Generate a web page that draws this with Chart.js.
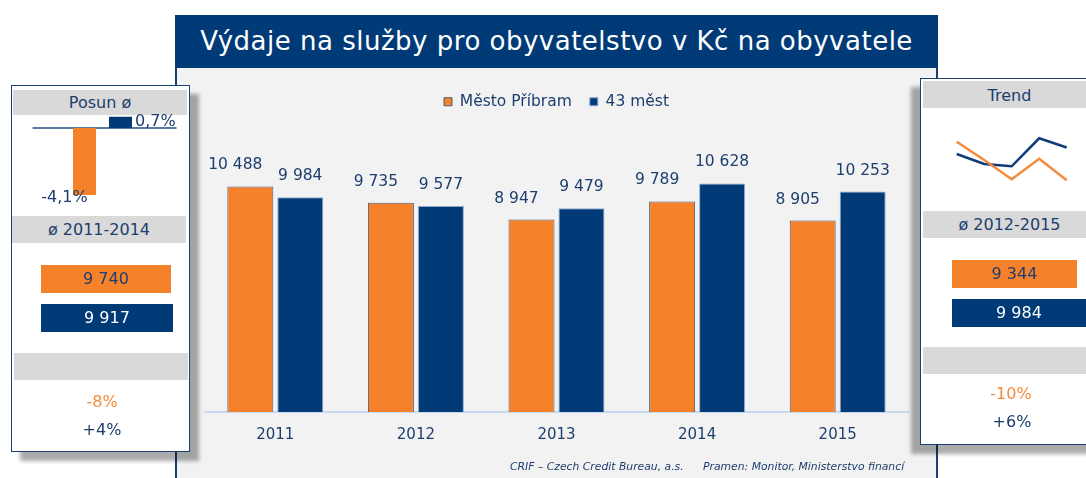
<!DOCTYPE html>
<html>
<head>
<meta charset="utf-8">
<script src="https://cdn.jsdelivr.net/npm/chart.js@4.4.1/dist/chart.umd.min.js"></script>
<style>
  body {
    margin: 0;
    width: 1086px;
    height: 478px;
    position: relative;
    overflow: hidden;
    background: #fff;
    font-family: "DejaVu Sans", Verdana, sans-serif;
    color: #1d3e6e;
  }
  .abs { position: absolute; }
  #frame {
    left: 175px; top: 15px; width: 763px; height: 470px;
    background: #f2f2f2;
    border-left: 2px solid #1c3f73;
    border-right: 2px solid #1c3f73;
    box-sizing: border-box;
  }
  #titlebar {
    left: 175px; top: 15px; width: 763px; height: 53px;
    background: #003b78;
    color: #fff;
    font-size: 26px;
    letter-spacing: 0.5px;
    line-height: 53px;
    text-align: center;
    white-space: nowrap;
  }
  .panel {
    background: #fff;
    border: 1.5px solid #1c3f73;
    box-sizing: border-box;
  }
  #leftPanel { left: 11px; top: 85px; width: 179px; height: 367px; box-shadow: 9px 9px 4px rgba(0,0,0,0.33); }
  #rightPanel { left: 920px; top: 78px; width: 180px; height: 367px; box-shadow: -9px 9px 4px rgba(0,0,0,0.33); }
  .hdr {
    background: #d9d9d9;
    font-size: 16px;
    text-align: center;
    box-sizing: border-box;
  }
  .box {
    font-size: 16px;
    text-align: center;
  }
  .orangeBox { background: #f5822a; color: #1d3e6e; }
  .navyBox { background: #003b78; color: #fff; }
  .pct { font-size: 16px; text-align: center; width: 120px; }
  .footer { font-size: 10.8px; font-style: italic; white-space: nowrap; }
  canvas { position: absolute; }
</style>
</head>
<body>
<div id="frame" class="abs"></div>
<div id="titlebar" class="abs">Výdaje na služby pro obyvatelstvo v Kč na obyvatele</div>

<canvas id="mainChart" width="750" height="400" style="left:180px; top:66px;"></canvas>

<div class="abs footer" style="left:510px; top:460px;">CRIF – Czech Credit Bureau, a.s.</div>
<div class="abs footer" style="left:703px; top:460px;">Pramen: Monitor, Ministerstvo financí</div>

<!-- left side panel -->
<div id="leftPanel" class="abs panel"></div>
<div class="abs hdr" style="left:13px; top:90px; width:174px; height:25px; line-height:25px;">Posun ø</div>
<canvas id="posunChart" width="170" height="110" style="left:20px; top:100px;"></canvas>
<div class="abs hdr" style="left:12px; top:216px; width:174px; height:27px; line-height:27px;">ø 2011-2014</div>
<div id="avgA0" class="abs box orangeBox" style="left:41px; top:265px; width:130px; height:28px; line-height:28px;"></div>
<div id="avgA1" class="abs box navyBox" style="left:41px; top:304px; width:132px; height:28px; line-height:28px;"></div>
<div class="abs hdr" style="left:14px; top:353px; width:174px; height:27px;"></div>
<div id="diffA0" class="abs pct" style="left:42px; top:392px; color:#f58a3c;"></div>
<div id="diffA1" class="abs pct" style="left:42px; top:420px;"></div>

<!-- right side panel -->
<div id="rightPanel" class="abs panel"></div>
<div class="abs hdr" style="left:923px; top:81px; width:173px; height:27px; line-height:29px;">Trend</div>
<canvas id="trendChart" width="150" height="80" style="left:930px; top:120px;"></canvas>
<div class="abs hdr" style="left:923px; top:211px; width:173px; height:27px; line-height:27px;">ø 2012-2015</div>
<div id="avgB0" class="abs box orangeBox" style="left:952px; top:260px; width:125px; height:28px; line-height:28px;"></div>
<div id="avgB1" class="abs box navyBox" style="left:952px; top:299px; width:134px; height:28px; line-height:28px;"></div>
<div class="abs hdr" style="left:923px; top:347px; width:173px; height:27px;"></div>
<div id="diffB0" class="abs pct" style="left:951px; top:384px; color:#f58a3c;"></div>
<div id="diffB1" class="abs pct" style="left:952px; top:412px;"></div>

<script>
const years = ["2011", "2012", "2013", "2014", "2015"];
const seriesNames = ["Město Příbram", "43 měst"];
const pribram = [10488, 9735, 8947, 9789, 8905];
const mest43 = [9984, 9577, 9479, 10628, 10253];

// average shift in %, Příbram vs. 43 cities
const posun = [-4.1, 0.7];
// averages for the two periods, and differences against them
const avg2011_2014 = [9740, 9917];
const avg2012_2015 = [9344, 9984];
const diff2011_2014 = ["-8%", "+4%"];
const diff2012_2015 = ["-10%", "+6%"];

const navy = "#003b78";
const orange = "#f5822a";
const textNavy = "#1d3e6e";
const fontFamily = "'DejaVu Sans', Verdana, sans-serif";

function fmt(v) {
  return String(v).replace(/\B(?=(\d{3})+(?!\d))/g, " ");
}

document.getElementById("avgA0").textContent = fmt(avg2011_2014[0]);
document.getElementById("avgA1").textContent = fmt(avg2011_2014[1]);
document.getElementById("avgB0").textContent = fmt(avg2012_2015[0]);
document.getElementById("avgB1").textContent = fmt(avg2012_2015[1]);
document.getElementById("diffA0").textContent = diff2011_2014[0];
document.getElementById("diffA1").textContent = diff2011_2014[1];
document.getElementById("diffB0").textContent = diff2012_2015[0];
document.getElementById("diffB1").textContent = diff2012_2015[1];

// value labels above the bars (Příbram labels sit a bit to the left)
const barLabels = {
  id: "barLabels",
  afterDatasetsDraw(chart) {
    const ctx = chart.ctx;
    ctx.save();
    ctx.font = "15.5px " + fontFamily;
    ctx.fillStyle = textNavy;
    ctx.textAlign = "center";
    ctx.textBaseline = "middle";
    chart.data.datasets.forEach((ds, i) => {
      chart.getDatasetMeta(i).data.forEach((bar, j) => {
        const shift = i === 0 ? -15 : 0;
        ctx.fillText(fmt(ds.data[j]), bar.x + shift, bar.y - 21);
      });
    });
    ctx.restore();
  },
};

new Chart(document.getElementById("mainChart"), {
  type: "bar",
  data: {
    labels: years,
    datasets: [
      {
        label: seriesNames[0],
        data: pribram,
        backgroundColor: orange,
        borderColor: "#4c5d75",
        borderWidth: 1,
      },
      {
        label: seriesNames[1],
        data: mest43,
        backgroundColor: navy,
        borderColor: "#8ea8cc",
        borderWidth: 1,
      },
    ],
  },
  options: {
    responsive: false,
    animation: false,
    layout: { padding: { top: 10, left: 25, right: 22, bottom: 8 } },
    datasets: { bar: { categoryPercentage: 0.711, barPercentage: 0.92 } },
    plugins: {
      legend: {
        labels: {
          boxWidth: 8,
          boxHeight: 8,
          padding: 18,
          color: textNavy,
          font: { size: 15.5, family: fontFamily },
        },
      },
      tooltip: { enabled: false },
    },
    scales: {
      x: {
        grid: { display: false, drawTicks: false },
        border: { color: "#c5d9f1", width: 2 },
        ticks: { padding: 14, color: textNavy, font: { size: 15, family: fontFamily } },
      },
      y: { display: false, min: 0, max: 13600 },
    },
  },
  plugins: [barLabels],
});

// small chart of the average shift
const posunDecor = {
  id: "posunDecor",
  beforeDatasetsDraw(chart) {
    const { ctx, chartArea, scales } = chart;
    const y0 = scales.y.getPixelForValue(0);
    ctx.save();
    ctx.strokeStyle = "#1f4e80";
    ctx.lineWidth = 1.5;
    ctx.beginPath();
    ctx.moveTo(chartArea.left + 2, y0);
    ctx.lineTo(chartArea.right + 2, y0);
    ctx.stroke();
    ctx.restore();
  },
  afterDatasetsDraw(chart) {
    const ctx = chart.ctx;
    ctx.save();
    ctx.font = "16px " + fontFamily;
    ctx.fillStyle = textNavy;
    ctx.textBaseline = "middle";
    chart.data.datasets.forEach((ds, i) => {
      const bar = chart.getDatasetMeta(i).data[0];
      const text = ds.data[0].toFixed(1).replace(".", ",") + "%";
      if (ds.data[0] < 0) {
        ctx.textAlign = "center";
        ctx.fillText(text, bar.x - 20, bar.y + 3);
      } else {
        ctx.textAlign = "left";
        ctx.fillText(text, bar.x + bar.width / 2 + 3, (bar.y + bar.base) / 2);
      }
    });
    ctx.restore();
  },
};

new Chart(document.getElementById("posunChart"), {
  type: "bar",
  data: {
    labels: [""],
    datasets: [
      { label: seriesNames[0], data: [posun[0]], backgroundColor: orange },
      { label: seriesNames[1], data: [posun[1]], backgroundColor: navy },
    ],
  },
  options: {
    responsive: false,
    animation: false,
    layout: { padding: { top: 16.6, left: 10.5, right: 15.5, bottom: 15 } },
    datasets: { bar: { categoryPercentage: 0.5, barPercentage: 0.64 } },
    plugins: { legend: { display: false }, tooltip: { enabled: false } },
    scales: {
      x: { display: false },
      y: { display: false, min: posun[0], max: posun[1] },
    },
  },
  plugins: [posunDecor],
});

// trend sparkline for 2011-2015
const allValues = pribram.concat(mest43);
new Chart(document.getElementById("trendChart"), {
  type: "line",
  data: {
    labels: years,
    datasets: [
      { label: seriesNames[0], data: pribram, borderColor: "#f58a3c" },
      { label: seriesNames[1], data: mest43, borderColor: "#0d3d78" },
    ],
  },
  options: {
    responsive: false,
    animation: false,
    layout: { padding: { top: 18.3, left: 26.7, right: 13.3, bottom: 19.7 } },
    elements: {
      line: { borderWidth: 2.5, tension: 0, borderJoinStyle: "miter" },
      point: { radius: 0 },
    },
    datasets: { line: { clip: false } },
    plugins: { legend: { display: false }, tooltip: { enabled: false } },
    scales: {
      x: { display: false, offset: false },
      y: { display: false, min: Math.min(...allValues), max: Math.max(...allValues) },
    },
  },
});
</script>
</body>
</html>
